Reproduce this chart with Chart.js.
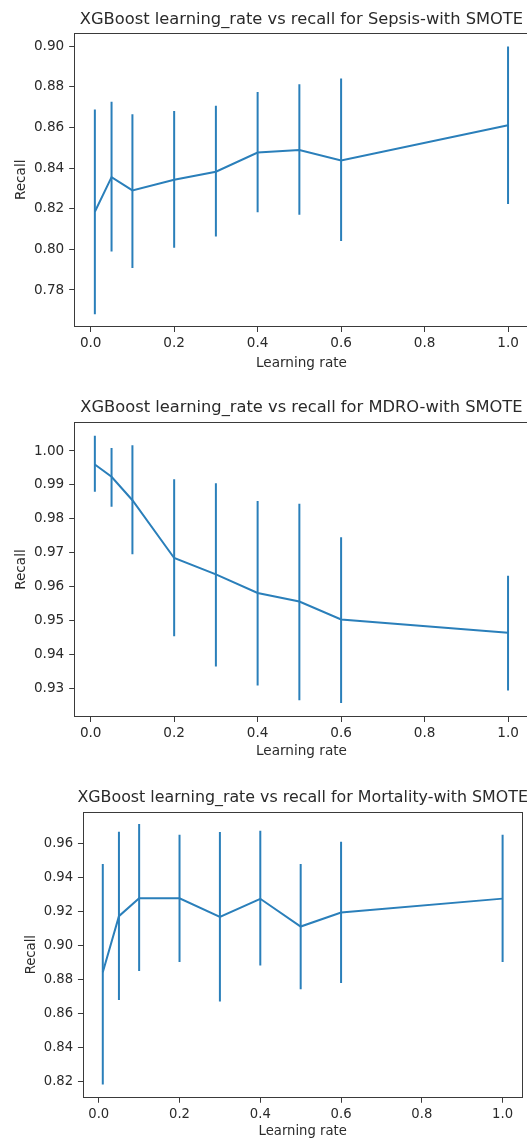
<!DOCTYPE html>
<html><head><meta charset="utf-8">
<script src="https://cdn.jsdelivr.net/npm/chart.js@4.4.0/dist/chart.umd.min.js"></script>
<style>
html,body{margin:0;padding:0;background:#fff;width:527px;height:1139px;overflow:hidden;position:relative}
.box{position:absolute;left:0;width:540px;overflow:hidden}
canvas{display:block}
</style></head><body>
<div class="box" style="top:0;height:375px"><canvas id="c1" width="540" height="375"></canvas></div>
<div class="box" style="top:375px;height:390px"><canvas id="c2" width="540" height="390"></canvas></div>
<div class="box" style="top:765px;height:380px"><canvas id="c3" width="540" height="380"></canvas></div>
<script>
// ---------- data ----------
const learningRates = [0.01, 0.05, 0.1, 0.2, 0.3, 0.4, 0.5, 0.6, 1.0];
const xTicks = [0, 0.2, 0.4, 0.6, 0.8, 1.0];

const sepsisTitle = "XGBoost learning_rate vs recall for Sepsis-with SMOTE";
const sepsisRecall = [0.8185, 0.8355, 0.8290, 0.8342, 0.8382, 0.8476, 0.8488, 0.8437, 0.8610];
const sepsisLower  = [0.7681, 0.7989, 0.7908, 0.8008, 0.8063, 0.8182, 0.8170, 0.8041, 0.8223];
const sepsisUpper  = [0.8688, 0.8726, 0.8665, 0.8680, 0.8706, 0.8774, 0.8812, 0.8840, 0.8998];
const sepsisYTicks = [0.78, 0.80, 0.82, 0.84, 0.86, 0.88, 0.90];

const mdroTitle = "XGBoost learning_rate vs recall for MDRO-with SMOTE";
const mdroRecall = [0.9960, 0.9924, 0.9855, 0.9685, 0.9637, 0.9582, 0.9557, 0.9504, 0.9465];
const mdroLower  = [0.9880, 0.9836, 0.9696, 0.9455, 0.9366, 0.9310, 0.9266, 0.9258, 0.9295];
const mdroUpper  = [1.0045, 1.0009, 1.0017, 0.9917, 0.9905, 0.9853, 0.9845, 0.9746, 0.9633];
const mdroYTicks = [0.93, 0.94, 0.95, 0.96, 0.97, 0.98, 0.99, 1.00];

const mortalityTitle = "XGBoost learning_rate vs recall for Mortality-with SMOTE";
const mortalityRecall = [0.8843, 0.9173, 0.9278, 0.9278, 0.9169, 0.9275, 0.9112, 0.9194, 0.9276];
const mortalityLower  = [0.8184, 0.8680, 0.8851, 0.8904, 0.8672, 0.8883, 0.8743, 0.8780, 0.8904];
const mortalityUpper  = [0.9480, 0.9669, 0.9714, 0.9651, 0.9667, 0.9675, 0.9480, 0.9610, 0.9651];
const mortalityYTicks = [0.82, 0.84, 0.86, 0.88, 0.90, 0.92, 0.94, 0.96];

const xLabel = "Learning rate";
const yLabel = "Recall";
const lineColor = "#2a7fba";
const textColor = "#2a2a2a";
const spineColor = "#3a3a3a";

// ---------- plugins ----------
const errorBarPlugin = {
  id: 'errorBars',
  afterDatasetsDraw(chart, args, opts) {
    const {ctx, chartArea, scales} = chart;
    ctx.save();
    ctx.beginPath();
    ctx.rect(chartArea.left, chartArea.top, chartArea.right - chartArea.left, chartArea.bottom - chartArea.top);
    ctx.clip();
    ctx.strokeStyle = lineColor;
    ctx.lineWidth = 2;
    opts.xs.forEach((xv, i) => {
      const px = scales.x.getPixelForValue(xv);
      ctx.beginPath();
      ctx.moveTo(px, scales.y.getPixelForValue(opts.lower[i]));
      ctx.lineTo(px, scales.y.getPixelForValue(opts.upper[i]));
      ctx.stroke();
    });
    ctx.restore();
  }
};
const frame = {
  id: 'frame',
  afterDraw(chart, args, opts) {
    const {ctx, chartArea: a} = chart;
    ctx.save();
    ctx.strokeStyle = spineColor;
    ctx.lineWidth = 1;
    const l = Math.round(a.left) + 0.5, t = Math.round(a.top) + 0.5;
    const r = Math.round(a.right) - 0.5, b = Math.round(a.bottom) - 0.5;
    ctx.strokeRect(l, t, r - l, b - t);
    // axes title, centred over the axes box (not squeezed to fit)
    ctx.fillStyle = textColor;
    ctx.font = opts.size + "px 'DejaVu Sans', sans-serif";
    ctx.textAlign = 'center';
    ctx.textBaseline = 'middle';
    ctx.fillText(opts.text, (a.left + a.right) / 2, opts.y);
    ctx.restore();
  }
};

function makeChart(id, g) {
  const tickFont = {family: "'DejaVu Sans', sans-serif", size: g.tickSize, lineHeight: 1.2};
  return new Chart(document.getElementById(id), {
    type: 'line',
    data: {
      datasets: [{
        data: learningRates.map((x, i) => ({x: x, y: g.values[i]})),
        borderColor: lineColor,
        borderWidth: 2,
        pointRadius: 0,
        tension: 0,
        fill: false
      }]
    },
    plugins: [errorBarPlugin, frame],
    options: {
      responsive: false,
      animation: false,
      devicePixelRatio: 1,
      layout: {padding: {left: 0, top: g.top, bottom: 0, right: g.width - g.right}},
      plugins: {
        legend: {display: false},
        tooltip: {enabled: false},
        title: {display: false},
        frame: {text: g.title, size: g.titleSize, y: g.titleY},
        errorBars: {xs: learningRates, lower: g.lower, upper: g.upper}
      },
      scales: {
        x: {
          type: 'linear', min: -0.0395, max: 1.0495,
          afterFit: (s) => { s.height = g.height - g.bottom; },
          afterBuildTicks: (s) => { s.ticks = xTicks.map(v => ({value: v})); },
          grid: {drawOnChartArea: false, drawTicks: true, tickLength: g.tl, tickColor: spineColor, tickWidth: 1},
          border: {display: false},
          ticks: {autoSkip: false, maxRotation: 0, color: textColor, font: tickFont, padding: g.xpad,
                  callback: (v) => Number(v).toFixed(1)},
          title: {display: true, text: xLabel, color: textColor, font: tickFont, padding: {top: 0, bottom: g.xlabBottom}}
        },
        y: {
          type: 'linear', min: g.ymin, max: g.ymax,
          afterFit: (s) => { s.width = g.left; },
          afterBuildTicks: (s) => { s.ticks = g.yticks.map(v => ({value: v})); },
          grid: {drawOnChartArea: false, drawTicks: true, tickLength: g.tl, tickColor: spineColor, tickWidth: 1},
          border: {display: false},
          ticks: {autoSkip: false, color: textColor, font: tickFont, padding: g.ypad,
                  callback: (v) => Number(v).toFixed(2)},
          title: {display: true, text: yLabel, color: textColor, font: tickFont, padding: {top: g.ylabTop, bottom: 0}}
        }
      }
    }
  });
}

makeChart('c1', {
  title: sepsisTitle, values: sepsisRecall, lower: sepsisLower, upper: sepsisUpper, yticks: sepsisYTicks,
  ymin: 0.7618, ymax: 0.9066, width: 540, height: 375,
  left: 74.2, right: 528.7, top: 32.6, bottom: 327,
  titleSize: 16.3, titleY: 19.3,
  tickSize: 13.6, tl: 5, xpad: 3.2, ypad: 5.0, xlabBottom: 3.7, ylabTop: 13.2
});
makeChart('c2', {
  title: mdroTitle, values: mdroRecall, lower: mdroLower, upper: mdroUpper, yticks: mdroYTicks,
  ymin: 0.9217, ymax: 1.0085, width: 540, height: 390,
  left: 74.2, right: 528.7, top: 47.1, bottom: 342,
  titleSize: 16.3, titleY: 32.6,
  tickSize: 13.6, tl: 5, xpad: 3.2, ypad: 5.0, xlabBottom: 4.9, ylabTop: 13.2
});
makeChart('c3', {
  title: mortalityTitle, values: mortalityRecall, lower: mortalityLower, upper: mortalityUpper, yticks: mortalityYTicks,
  ymin: 0.8105, ymax: 0.9788, width: 540, height: 380,
  left: 82.8, right: 522.6, top: 46.5, bottom: 332.9,
  titleSize: 15.85, titleY: 32.4,
  tickSize: 13.2, tl: 4.85, xpad: 3.5, ypad: 4.8, xlabBottom: 5.4, ylabTop: 23.6
});
</script>
</body></html>
